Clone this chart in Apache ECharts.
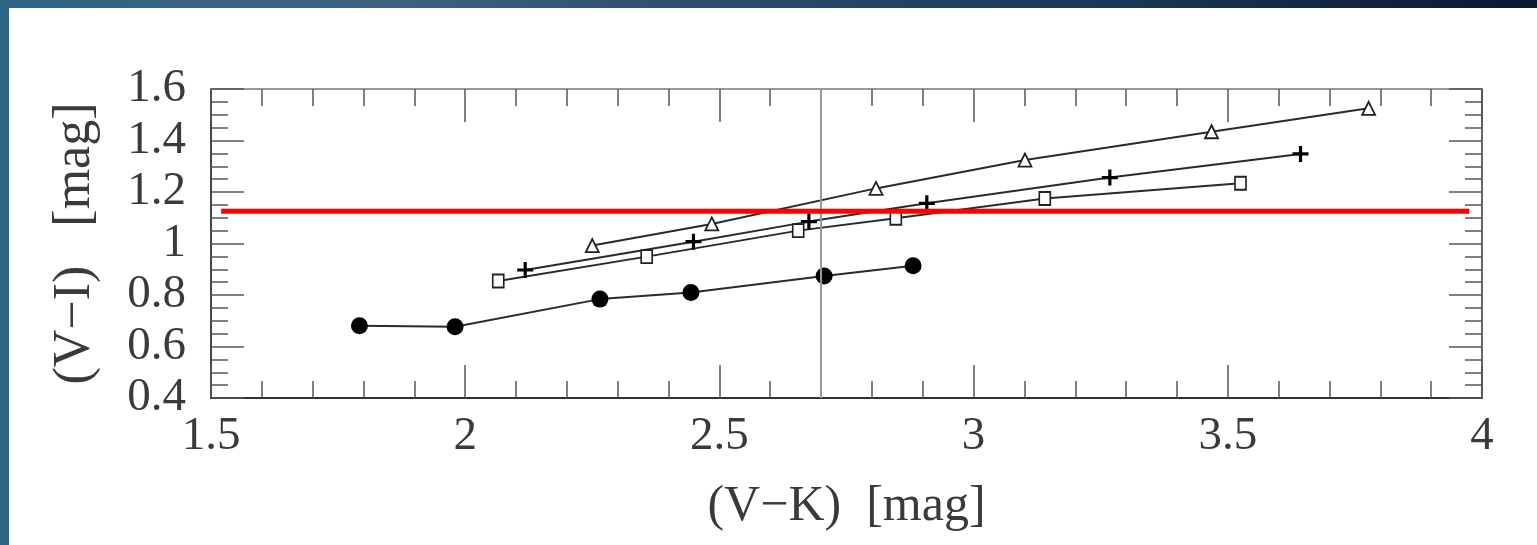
<!DOCTYPE html>
<html><head><meta charset="utf-8">
<script src="https://cdn.jsdelivr.net/npm/echarts@6/dist/echarts.min.js"></script>
<style>
html,body{margin:0;padding:0;width:1537px;height:545px;overflow:hidden;
background:linear-gradient(90deg,#2e6488 0%,#3d6282 25%,#284a6a 50%,#1a3454 75%,#0a1830 100%);}
#chart{position:absolute;left:9px;top:8px;width:1528px;height:537px;background:#fff;}
</style></head><body><div id="chart"></div>
<script>
// Filled circles
const circX = [1.792, 1.980, 2.265, 2.444, 2.706, 2.881];
const circY = [0.681, 0.677, 0.784, 0.810, 0.874, 0.914];
// Open squares
const sqX = [2.065, 2.357, 2.655, 2.847, 3.140, 3.525];
const sqY = [0.854, 0.949, 1.050, 1.098, 1.175, 1.234];
// Crosses
const crX = [2.118, 2.449, 2.676, 2.908, 3.268, 3.643];
const crY = [0.897, 1.007, 1.085, 1.156, 1.256, 1.348];
// Open triangles
const trX = [2.250, 2.485, 2.808, 3.101, 3.468, 3.777];
const trY = [0.992, 1.076, 1.214, 1.324, 1.434, 1.525];
// Red horizontal reference line
const redX = [1.52, 3.975];
const redY = [1.125, 1.125];
// Vertical reference line
const vLineX = 2.7;
// Axis ranges / ticks
const xRange = [1.5, 4], xStep = 0.5;
const yRange = [0.4, 1.6], yStep = 0.2;

const pairs = (xs, ys) => xs.map((x, i) => [x, ys[i]]);
const font = 'Liberation Serif';
const lbl = {fontSize: 47, fontFamily: font, color: '#3a3a3a'};

function xAx(pos, show) {
  return {
    type: 'value', min: xRange[0], max: xRange[1], interval: xStep, position: pos,
    axisLine: {show: true, onZero: false, lineStyle: {color: pos === 'bottom' ? '#333' : '#999', width: 2}},
    axisTick: {show: true, inside: true, length: 33, lineStyle: {color: '#555', width: 1.5}},
    minorTick: {show: true, splitNumber: 5, length: 17, lineStyle: {color: '#555', width: 1.5}},
    splitLine: {show: false}, minorSplitLine: {show: false},
    axisLabel: Object.assign({show: show, margin: 15}, lbl),
    name: show ? '(V\u2212K)  [mag]' : '', nameLocation: 'middle', nameGap: 84,
    nameTextStyle: {fontSize: 50, fontFamily: font, color: '#3a3a3a'}
  };
}
function yAx(pos, show) {
  return {
    type: 'value', min: yRange[0], max: yRange[1], interval: yStep, position: pos,
    axisLine: {show: true, onZero: false, lineStyle: {color: pos === 'left' ? '#444' : '#666', width: 2}},
    axisTick: {show: true, inside: true, length: 33, lineStyle: {color: '#555', width: 1.5}},
    minorTick: {show: true, splitNumber: 4, length: 17, lineStyle: {color: '#555', width: 1.5}},
    splitLine: {show: false}, minorSplitLine: {show: false},
    axisLabel: Object.assign({show: show, margin: 25}, lbl),
    name: show ? '(V\u2212I)   [mag]' : '', nameLocation: 'middle', nameGap: 110, nameRotate: 90,
    nameTextStyle: {fontSize: 52, fontFamily: font, color: '#3a3a3a'}
  };
}
const lineSt = {color: '#2a2a2a', width: 2};
const chart = echarts.init(document.getElementById('chart'));
chart.setOption({
  animation: false,
  backgroundColor: '#fff',
  grid: {left: 202, right: 55, top: 81, bottom: 147},
  xAxis: [xAx('bottom', true), xAx('top', false)],
  yAxis: [yAx('left', true), yAx('right', false)],
  series: [
    {type: 'line', data: pairs(circX, circY), symbol: 'circle', symbolSize: 17,
     itemStyle: {color: '#000'}, lineStyle: lineSt, z: 3,
     markLine: {silent: true, symbol: 'none', label: {show: false},
       lineStyle: {color: '#999', width: 2, type: 'solid'}, data: [{xAxis: vLineX}]}},
    {type: 'line', data: pairs(sqX, sqY), symbol: 'rect', symbolSize: [11, 13],
     itemStyle: {color: '#fff', borderColor: '#222', borderWidth: 1.8}, lineStyle: lineSt, z: 3},
    {type: 'line', data: pairs(crX, crY), symbol: 'path://M4,0H6V4H10V6H6V10H4V6H0V4H4Z', symbolSize: 16,
     itemStyle: {color: '#000'}, lineStyle: lineSt, z: 3},
    {type: 'line', data: pairs(trX, trY), symbol: 'triangle', symbolSize: 13,
     itemStyle: {color: '#fff', borderColor: '#222', borderWidth: 1.8}, lineStyle: lineSt, z: 3},
    {type: 'line', data: pairs(redX, redY), symbol: 'none',
     lineStyle: {color: '#ff0000', width: 5}, z: 5}
  ]
});
</script></body></html>
